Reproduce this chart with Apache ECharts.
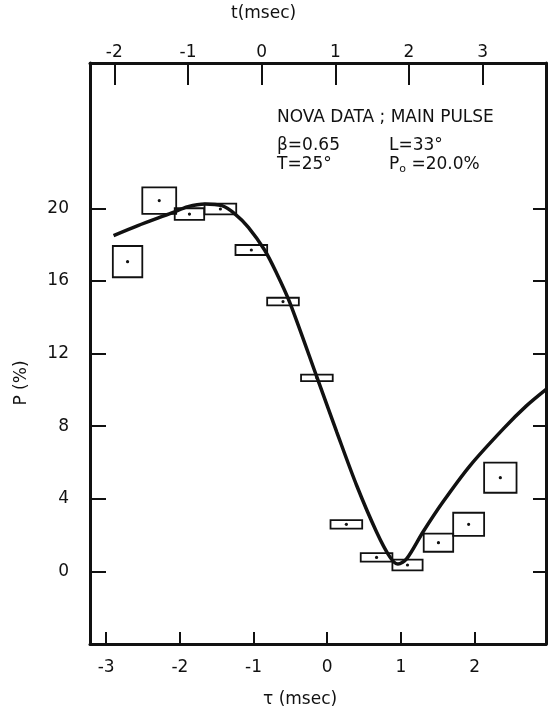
<!DOCTYPE html>
<html>
<head>
<meta charset="utf-8">
<script src="https://cdn.jsdelivr.net/npm/echarts@6/dist/echarts.min.js"></script>
<style>
  html, body { margin: 0; padding: 0; background: #fff; }
  #chart { width: 550px; height: 719px; }
</style>
</head>
<body>
<div id="chart"></div>
<script>
// --- data ---
// measured points (tau in msec, P in %), with half-widths of the error boxes
const tauPoints = [-2.71, -2.28, -1.87, -1.45, -1.03, -0.60, -0.14, 0.26, 0.67, 1.09, 1.51, 1.92, 2.35];
const pPoints   = [17.06, 20.42, 19.68, 19.96, 17.70, 14.86, 10.66, 2.59, 0.77, 0.35, 1.58, 2.59, 5.16];
const tauErr    = [0.20, 0.23, 0.20, 0.215, 0.215, 0.215, 0.215, 0.215, 0.215, 0.205, 0.20, 0.21, 0.22];
const pErr      = [0.86, 0.73, 0.32, 0.30, 0.275, 0.21, 0.18, 0.23, 0.23, 0.30, 0.50, 0.64, 0.83];

// fitted curve, traced
const curveTau = [-2.90, -2.57, -2.11, -1.89, -1.66, -1.43, -1.25, -1.07, -0.85, -0.69, -0.51, -0.14, 0.13, 0.40, 0.67, 0.85, 0.96, 1.08, 1.30, 1.57, 1.94, 2.39, 2.70, 2.98];
const curveP   = [18.49, 19.04, 19.74, 20.09, 20.24, 20.14, 19.68, 18.95, 17.70, 16.45, 14.83, 10.70, 7.67, 4.73, 2.17, 0.80, 0.40, 0.70, 2.17, 3.82, 5.83, 7.85, 9.10, 10.05];

// axis ticks
const tauTicks = [-3, -2, -1, 0, 1, 2];
const tTicks   = [-2, -1, 0, 1, 2, 3];
const pTicks   = [0, 4, 8, 12, 16, 20];
const tOffset  = 0.89;   // t = tau + offset

const tauMin = -3.22, tauMax = 2.97;

const chart = echarts.init(document.getElementById('chart'));
const font = "'DejaVu Sans', 'Liberation Sans', sans-serif";
const ink = '#111';

const boxData = tauPoints.map((x, i) => [x, pPoints[i], tauErr[i], pErr[i]]);

const option = {
  backgroundColor: '#fff',
  animation: false,
  textStyle: { fontFamily: font, color: ink },
  grid: { left: 90, right: 4, top: 63, bottom: 75 },
  xAxis: [
    {
      type: 'value', position: 'bottom', min: tauMin, max: tauMax,
      axisLine: { onZero: false, lineStyle: { color: ink, width: 3 } },
      axisTick: { inside: true, length: 12, customValues: tauTicks, lineStyle: { color: ink, width: 2 } },
      axisLabel: { customValues: tauTicks, color: ink, fontSize: 17, margin: 15, fontFamily: font },
      splitLine: { show: false }
    },
    {
      type: 'value', position: 'top', min: tauMin + tOffset, max: tauMax + tOffset,
      axisLine: { onZero: false, lineStyle: { color: ink, width: 3 } },
      axisTick: { inside: true, length: 22, customValues: tTicks, lineStyle: { color: ink, width: 2 } },
      axisLabel: { customValues: tTicks, color: ink, fontSize: 17, margin: 2, fontFamily: font },
      splitLine: { show: false }
    }
  ],
  yAxis: [
    {
      type: 'value', position: 'left', min: -4, max: 28,
      axisLine: { onZero: false, lineStyle: { color: ink, width: 3 } },
      axisTick: { inside: true, length: 16, customValues: pTicks, lineStyle: { color: ink, width: 2 } },
      axisLabel: { customValues: pTicks, color: ink, fontSize: 17, margin: 21, fontFamily: font },
      splitLine: { show: false }
    },
    {
      type: 'value', position: 'right', min: -4, max: 28,
      axisLine: { onZero: false, lineStyle: { color: ink, width: 3 } },
      axisTick: { inside: true, length: 13, customValues: pTicks, lineStyle: { color: ink, width: 2 } },
      axisLabel: { show: false },
      splitLine: { show: false }
    }
  ],
  series: [
    {
      type: 'custom',
      xAxisIndex: 0, yAxisIndex: 0,
      data: boxData,
      renderItem: (params, api) => {
        const x = api.value(0), y = api.value(1), dx = api.value(2), dy = api.value(3);
        const p1 = api.coord([x - dx, y + dy]);
        const p2 = api.coord([x + dx, y - dy]);
        const c = api.coord([x, y]);
        return {
          type: 'group',
          children: [
            {
              type: 'rect',
              shape: { x: p1[0], y: p1[1], width: p2[0] - p1[0], height: p2[1] - p1[1] },
              style: { fill: 'none', stroke: ink, lineWidth: 1.8 }
            },
            {
              type: 'circle',
              shape: { cx: c[0], cy: c[1], r: 1.6 },
              style: { fill: ink }
            }
          ]
        };
      }
    },
    {
      type: 'line',
      xAxisIndex: 0, yAxisIndex: 0,
      data: curveTau.map((x, i) => [x, curveP[i]]),
      smooth: 0.3,
      showSymbol: false,
      lineStyle: { color: ink, width: 3.5 },
      z: 3
    }
  ],
  graphic: [
    { type: 'text', left: 231, top: 5, style: { text: 't(msec)', font: '17px ' + font, fill: ink } },
    { type: 'text', left: 263, top: 691, style: { text: 'τ (msec)', font: '17px ' + font, fill: ink } },
    { type: 'text', x: 22, y: 383, rotation: Math.PI / 2, style: { text: 'P (%)', font: '17px ' + font, fill: ink, align: 'center', verticalAlign: 'middle' } },
    { type: 'text', left: 277, top: 109, style: { text: 'NOVA DATA ; MAIN PULSE', font: '17px ' + font, fill: ink } },
    { type: 'text', left: 277, top: 137, style: { text: 'β=0.65', font: '17px ' + font, fill: ink } },
    { type: 'text', left: 389, top: 137, style: { text: 'L=33°', font: '17px ' + font, fill: ink } },
    { type: 'text', left: 277, top: 156, style: { text: 'T=25°', font: '17px ' + font, fill: ink } },
    {
      type: 'text', left: 389, top: 156,
      style: {
        text: '{a|P}{b|o}{a| =20.0%}',
        rich: { a: { font: '17px ' + font, fill: ink }, b: { font: '11px ' + font, fill: ink, padding: [9, 0, 0, 0] } }
      }
    }
  ]
};

chart.setOption(option);
</script>
</body>
</html>
